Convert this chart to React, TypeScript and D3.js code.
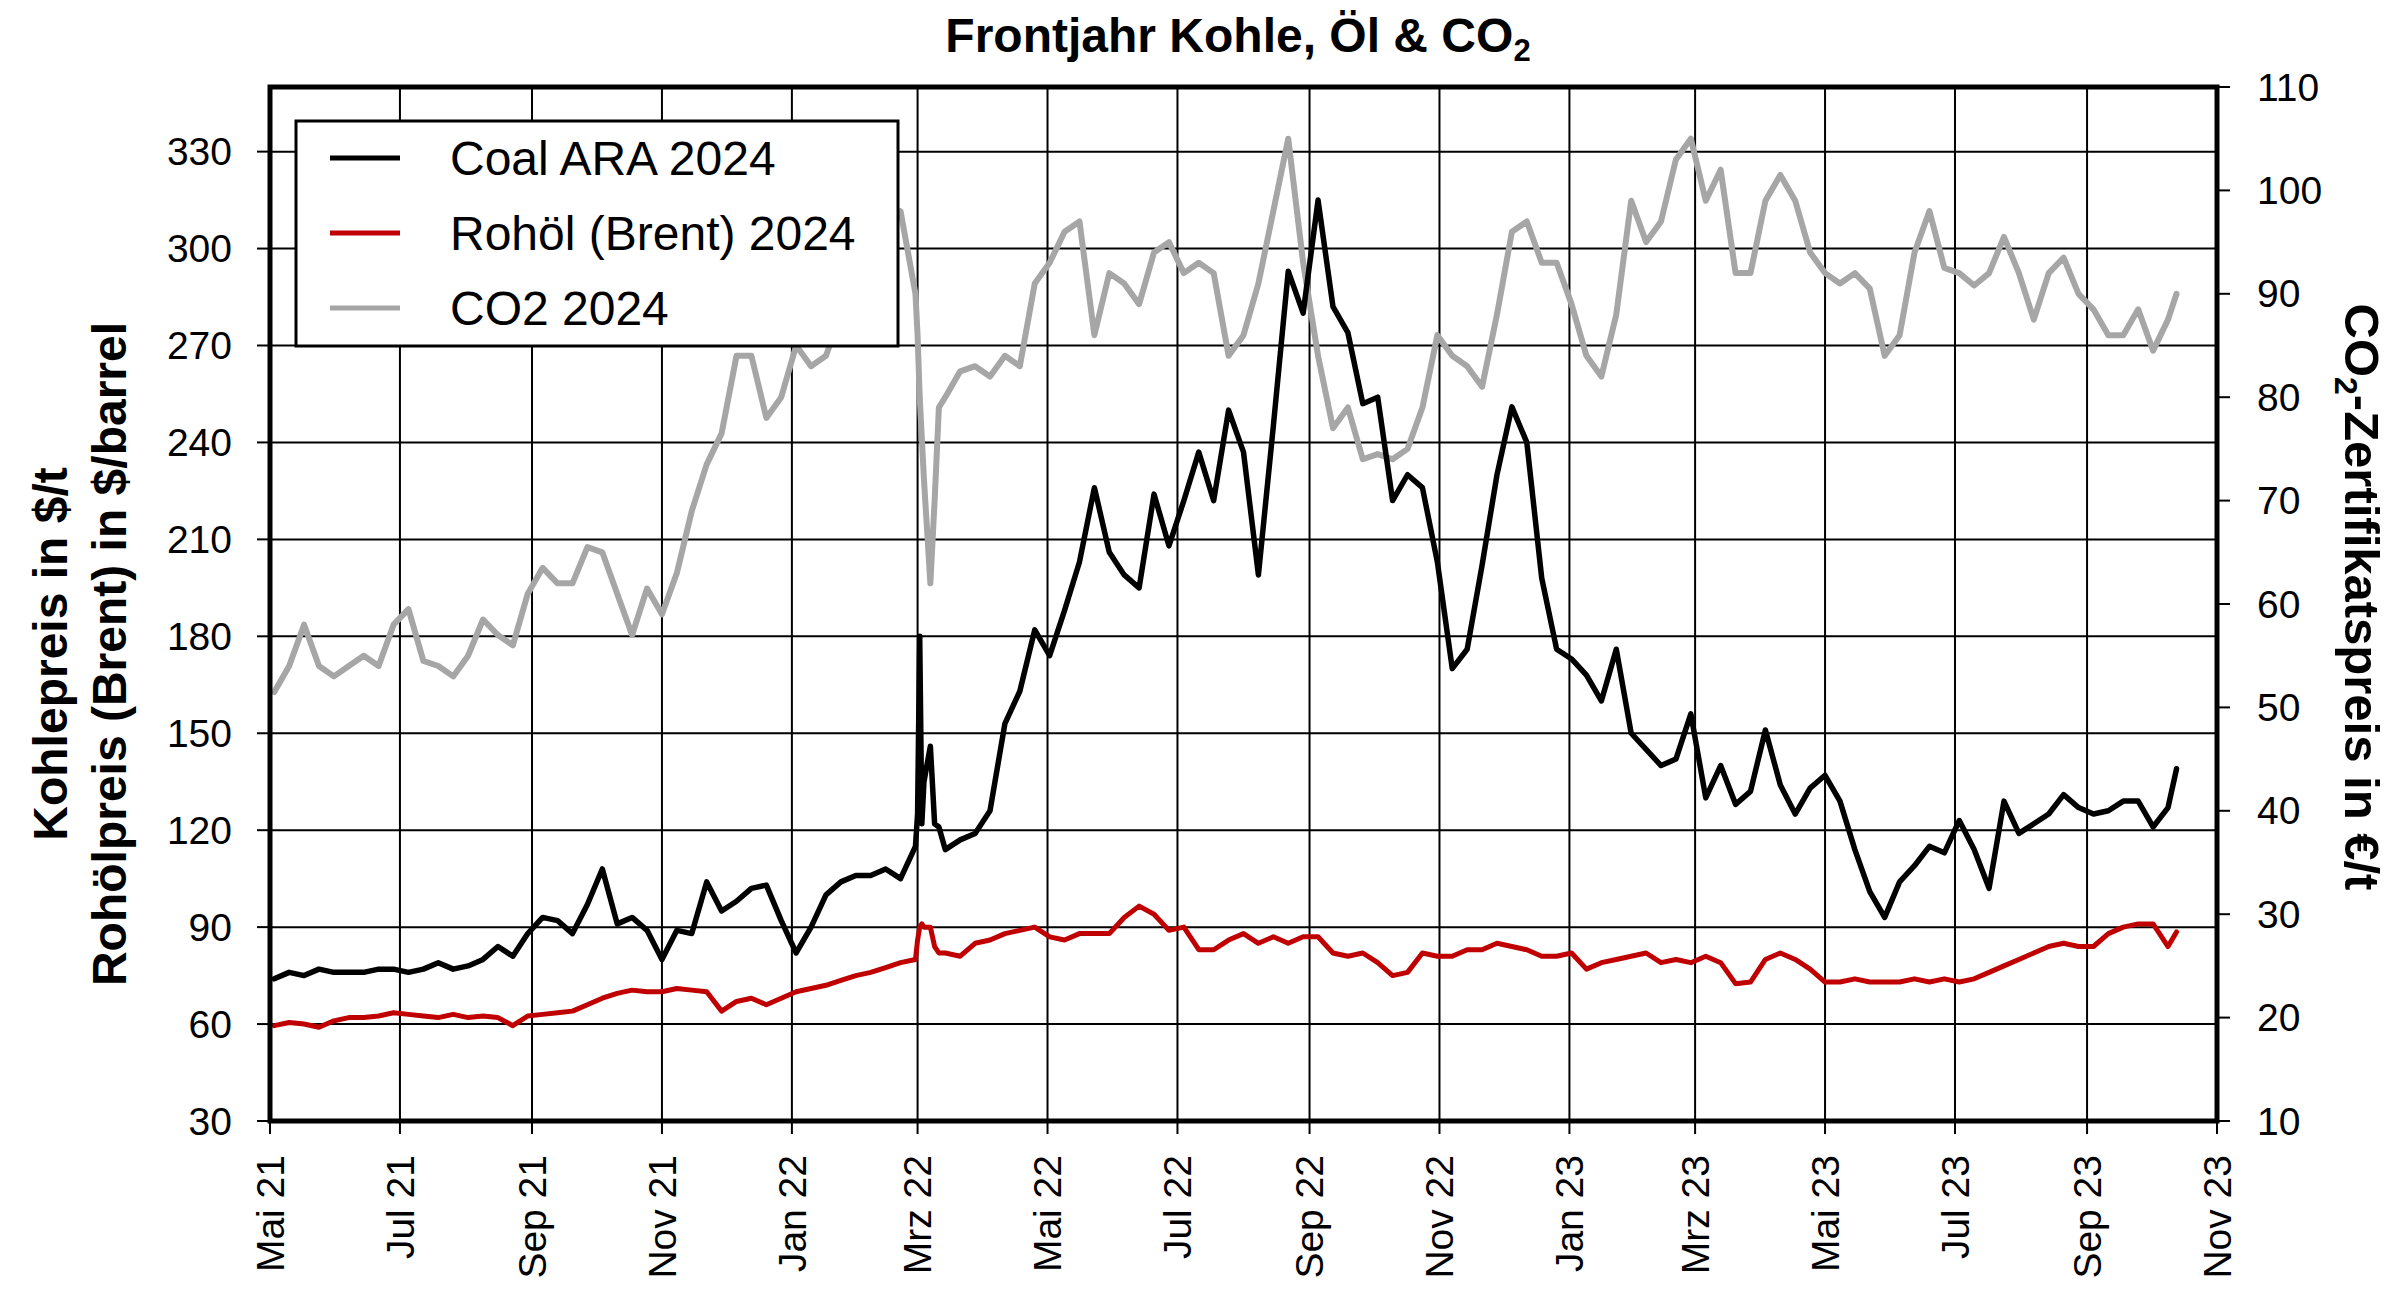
import React from 'react';
import * as d3 from 'd3';

// weekly readings (Mondays) from May 2021, a few extra days around the
// early-March 2022 spike, and the final quote of Oct 13 2023
const extraDates = [
  new Date(2022, 2, 1), new Date(2022, 2, 2), new Date(2022, 2, 3), new Date(2022, 2, 4),
  new Date(2022, 2, 9), new Date(2022, 2, 11),
  new Date(2023, 9, 13),
];
const weekDates: Date[] = [
  ...d3.timeMonday.range(new Date(2021, 4, 3), new Date(2023, 9, 10)),
  ...extraDates,
].sort((a, b) => a.getTime() - b.getTime());

// Coal ARA 2024 in $/t (left axis)
const coal = [
  74, 76, 75, 77, 76, 76, 76, 77, 77, 76,
  77, 79, 77, 78, 80, 84, 81, 88, 93, 92,
  88, 97, 108, 91, 93, 89, 80, 89, 88, 104,
  95, 98, 102, 103, 92, 82, 90, 100, 104, 106,
  106, 108, 105,
  115, 125, 180, 122, 135, 146, 122, 121, 114, // Feb 28 .. Mar 14 2022
  117, 119, 126, 153,
  163, 182, 174, 188, 203, 226, 206, 199, 195, 224,
  208, 222, 237, 222, 250, 237, 199, 245, 293, 280,
  315, 282, 274, 252, 254, 222, 230, 226, 203, 170,
  176, 202, 230, 251, 240, 198, 176, 173, 168, 160,
  176, 150, 145, 140, 142, 156, 130, 140, 128, 132,
  151, 134, 125, 133, 137, 129, 114, 101, 93, 104,
  109, 115, 113, 123, 114, 102, 129, 119, 122, 125,
  131, 127, 125, 126, 129, 129, 121, 127, 139,
];

// Rohöl (Brent) 2024 in $/barrel (left axis)
const brent = [
  59.5, 60.5, 60, 59, 61, 62, 62, 62.5, 63.5, 63,
  62.5, 62, 63, 62, 62.5, 62, 59.5, 62.5, 63, 63.5,
  64, 66, 68, 69.5, 70.5, 70, 70, 71, 70.5, 70,
  64, 67, 68, 66, 68, 70, 71, 72, 73.5, 75,
  76, 77.5, 79,
  80, 86, 90, 91, 90, 90, 84, 82, 82, // Feb 28 .. Mar 14 2022
  81, 85, 86, 88,
  89, 90, 87, 86, 88, 88, 88, 93, 96.5, 94,
  89, 90, 83, 83, 86, 88, 85, 87, 85, 87,
  87, 82, 81, 82, 79, 75, 76, 82, 81, 81,
  83, 83, 85, 84, 83, 81, 81, 82, 77, 79,
  80, 81, 82, 79, 80, 79, 81, 79, 72.5, 73,
  80, 82, 80, 77, 73, 73, 74, 73, 73, 73,
  74, 73, 74, 73, 74, 76, 78, 80, 82, 84,
  85, 84, 84, 88, 90, 91, 91, 84, 88.5,
];

// CO2 2024 in €/t (right axis)
const co2 = [
  51.5, 54, 58, 54, 53, 54, 55, 54, 58, 59.5,
  54.5, 54, 53, 55, 58.5, 57, 56, 61, 63.5, 62,
  62, 65.5, 65, 61, 57, 61.5, 59, 63, 69, 73.5,
  76.5, 84, 84, 78, 80, 85, 83, 84, 88, 90,
  92, 95, 98,
  90, 86, 80, 76, 72, 62, 70, 79, 80, // Feb 28 .. Mar 14 2022
  82.5, 83, 82, 84,
  83, 91, 93, 96, 97, 86, 92, 91, 89, 94,
  95, 92, 93, 92, 84, 86, 91, 98, 105, 93,
  84, 77, 79, 74, 74.5, 74, 75, 79, 86, 84,
  83, 81, 88, 96, 97, 93, 93, 89, 84, 82,
  88, 99, 95, 97, 103, 105, 99, 102, 92, 92,
  99, 101.5, 99, 94, 92, 91, 92, 90.5, 84, 86,
  94, 98, 92.5, 92, 90.8, 92, 95.5, 92, 87.5, 92,
  93.5, 90, 88.5, 86, 86, 88.5, 84.5, 87.5, 90,
];

const leftTicks = [30, 60, 90, 120, 150, 180, 210, 240, 270, 300, 330];
const rightTicks = [10, 20, 30, 40, 50, 60, 70, 80, 90, 100, 110];
const monthNames = ['Jan', 'Feb', 'Mrz', 'Apr', 'Mai', 'Jun', 'Jul', 'Aug', 'Sep', 'Okt', 'Nov', 'Dez'];

const legendItems = [
  { label: 'Coal ARA 2024', color: '#000000' },
  { label: 'Rohöl (Brent) 2024', color: '#c00000' },
  { label: 'CO2 2024', color: '#a6a6a6' },
];

const W = 2400;
const H = 1305;
const left = 270;
const right = 2217;
const top = 87;
const bottom = 1121;
const font = '"Liberation Sans", Arial, sans-serif';

const App: React.FC = () => {
  const x = d3.scaleTime()
    .domain([new Date(2021, 4, 1), new Date(2023, 10, 1)])
    .range([left, right]);
  const yL = d3.scaleLinear().domain([30, 350]).range([bottom, top]);
  const yR = d3.scaleLinear().domain([10, 110]).range([bottom, top]);

  const xTicks = d3.timeMonth.every(2)!.range(new Date(2021, 4, 1), new Date(2023, 10, 2));

  const lineL = d3.line<number>()
    .x((_, i) => x(weekDates[i]))
    .y(d => yL(d));
  const lineR = d3.line<number>()
    .x((_, i) => x(weekDates[i]))
    .y(d => yR(d));

  const fmt = (d: Date) => `${monthNames[d.getMonth()]} ${String(d.getFullYear()).slice(2)}`;

  return (
    <svg width={W} height={H} style={{ position: 'absolute', left: 0, top: 0, background: '#fff' }}
      fontFamily={font}>
      <defs>
        <clipPath id="plot">
          <rect x={left} y={top} width={right - left} height={bottom - top} />
        </clipPath>
      </defs>
      <rect x={0} y={0} width={W} height={H} fill="#fff" />

      {/* grid */}
      {leftTicks.slice(1).map(t => (
        <line key={'h' + t} x1={left} x2={right} y1={yL(t)} y2={yL(t)} stroke="#000" strokeWidth={2} />
      ))}
      {xTicks.slice(1, -1).map(t => (
        <line key={'v' + t.getTime()} x1={x(t)} x2={x(t)} y1={top} y2={bottom} stroke="#000" strokeWidth={2} />
      ))}

      {/* series */}
      <g clipPath="url(#plot)" fill="none" strokeLinejoin="round" strokeLinecap="round">
        <path d={lineR(co2) ?? ''} stroke="#a6a6a6" strokeWidth={6} />
        <path d={lineL(brent) ?? ''} stroke="#c00000" strokeWidth={5} />
        <path d={lineL(coal) ?? ''} stroke="#000" strokeWidth={5.5} />
      </g>

      {/* frame */}
      <rect x={left} y={top} width={right - left} height={bottom - top} fill="none" stroke="#000" strokeWidth={5} />

      {/* left axis */}
      {leftTicks.map(t => (
        <g key={'l' + t}>
          <line x1={left - 13} x2={left} y1={yL(t)} y2={yL(t)} stroke="#000" strokeWidth={2} />
          <text x={232} y={yL(t)} dy="0.35em" textAnchor="end" fontSize={39}>{t}</text>
        </g>
      ))}

      {/* right axis */}
      {rightTicks.map(t => (
        <g key={'r' + t}>
          <line x1={right} x2={right + 13} y1={yR(t)} y2={yR(t)} stroke="#000" strokeWidth={2} />
          <text x={2257} y={yR(t)} dy="0.35em" textAnchor="start" fontSize={39}>{t}</text>
        </g>
      ))}

      {/* bottom axis */}
      {xTicks.map(t => (
        <g key={'x' + t.getTime()}>
          <line x1={x(t)} x2={x(t)} y1={bottom} y2={bottom + 13} stroke="#000" strokeWidth={2} />
          <text transform={`translate(${x(t)},1155) rotate(-90)`} dy="0.35em" textAnchor="end" fontSize={39}>
            {fmt(t)}
          </text>
        </g>
      ))}

      {/* legend */}
      <rect x={296} y={121} width={602} height={225} fill="#fff" stroke="#000" strokeWidth={3} />
      {legendItems.map((it, i) => {
        const ly = 158 + i * 75;
        return (
          <g key={it.label}>
            <line x1={330} x2={400} y1={ly} y2={ly} stroke={it.color} strokeWidth={5} />
            <text x={450} y={ly + 17} fontSize={48}>{it.label}</text>
          </g>
        );
      })}

      {/* titles */}
      <text x={1238} y={52} textAnchor="middle" fontSize={48} fontWeight="bold">
        Frontjahr Kohle, Öl &amp; CO<tspan fontSize={31} dy={9}>2</tspan>
      </text>
      <text transform="translate(67,654) rotate(-90)" textAnchor="middle" fontSize={48} fontWeight="bold">
        Kohlepreis in $/t
      </text>
      <text transform="translate(126,654) rotate(-90)" textAnchor="middle" fontSize={48} fontWeight="bold">
        Rohölpreis (Brent) in $/barrel
      </text>
      <text transform="translate(2345,597) rotate(90)" textAnchor="middle" fontSize={49} fontWeight="bold">
        CO<tspan fontSize={32} dy={10}>2</tspan><tspan dy={-10}>-Zertifikatspreis in €/t</tspan>
      </text>
    </svg>
  );
};

export default App;
